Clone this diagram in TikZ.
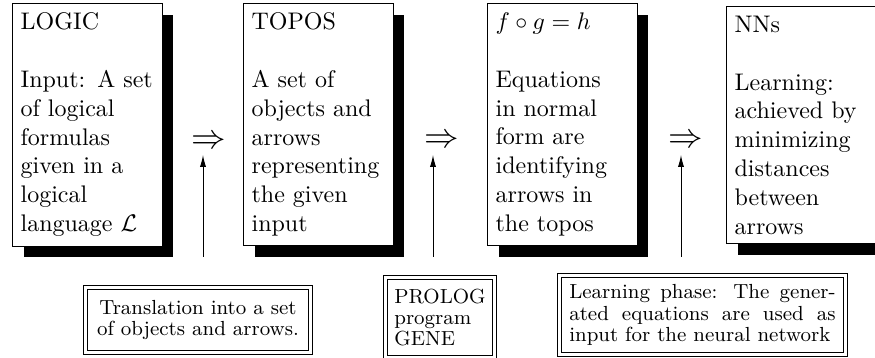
\documentclass[tikz,border=0pt]{standalone}
\usetikzlibrary{shadows,arrows.meta}

\tikzset{
  stage/.style={draw, fill=white, line width=0.4pt, anchor=north west,
    text width=55.6pt, inner xsep=3.4pt, inner ysep=4pt, align=left,
    drop shadow={shadow xshift=4.6pt, shadow yshift=-4.6pt, opacity=1, fill=black}},
  note/.style={draw, double, double distance=1.3pt, line width=0.4pt,
    font=\fontsize{8.5}{8.8}\selectfont},
  implies/.style={font=\Large, inner sep=0pt},
  feed/.style={-{Latex[length=5pt,width=2.6pt]}, line width=0.4pt}
}

\begin{document}
\begin{tikzpicture}[x=0.41667pt, y=-0.41667pt]
    \useasboundingbox (0,0) rectangle (875,358);
    \node[stage] (logic) at (12,3) {LOGIC\\[12pt] Input: A set\\ of logical\\ formulas\\ given in a\\ logical\\ language $\mathcal{L}$};
    \node[stage] (topos) at (243,3) {TOPOS\\[12pt] A set of\\ objects and\\ arrows\\ representing\\ the given\\ input};
    \node[stage] (eqns) at (487,3) {$f\circ g=h$\\[12pt] Equations\\ in normal\\ form are\\ identifying\\ arrows in\\ the topos};
    \node[stage] (nns) at (726,6) {NNs\\[12pt] Learning:\\ achieved by\\ minimizing\\ distances\\ between\\ arrows};
    \node[implies] (imp1) at (209,142) {$\Rightarrow$};
    \node[implies] (imp2) at (442,141) {$\Rightarrow$};
    \node[implies] (imp3) at (686,141) {$\Rightarrow$};
    \coordinate (src1) at (203,257);
    \coordinate (dst1) at (203,155);
    \coordinate (src2) at (433,257);
    \coordinate (dst2) at (433,155);
    \coordinate (src3) at (681,257);
    \coordinate (dst3) at (681,155);
    \draw[feed] (src1) -- (dst1);
    \draw[feed] (src2) -- (dst2);
    \draw[feed] (src3) -- (dst3);
    \node[note, minimum width=93.75pt, minimum height=27pt, align=center] (transl) at (198,320) {Translation into a set\\ of objects and arrows.};
    \node[note, minimum width=45.4pt, minimum height=33.3pt, align=left] (prolog) at (440,317.5) {PROLOG\\ program\\ GENE};
    \node[note, minimum width=119.2pt, minimum height=33pt, text width=111pt, align=justify] (phase) at (702.5,315) {Learning phase: The gener-\linebreak ated equations are used as\linebreak input for the neural network};
\end{tikzpicture}
\end{document}
